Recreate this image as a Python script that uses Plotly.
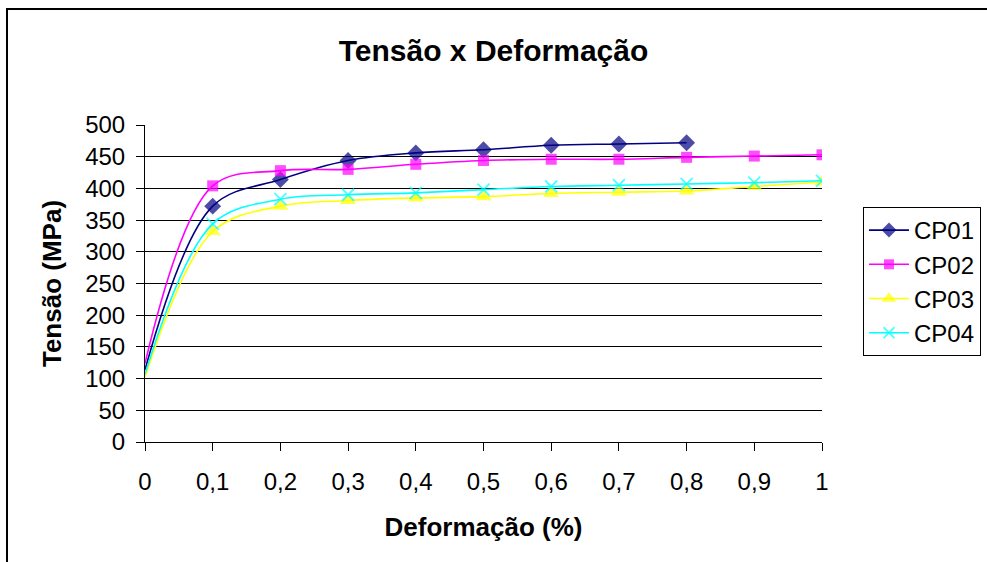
import plotly.graph_objects as go

# Strain (%) at each reading
deformacao = [0.0, 0.1, 0.2, 0.3, 0.4, 0.5, 0.6, 0.7, 0.8, 0.9, 1.0]

# Stress (MPa) for each specimen
cp01 = [114, 372, 414, 444, 456, 461, 468, 470, 472]
cp02 = [124, 404, 428, 430, 438, 444, 446, 446, 449, 451, 453]
cp03 = [102, 332, 372, 381, 385, 387, 392, 394, 396, 403, 410]
cp04 = [107, 344, 383, 390, 393, 398, 403, 405, 407, 409, 412]

y_ticks = list(range(0, 501, 50))
x_ticks = [0.0, 0.1, 0.2, 0.3, 0.4, 0.5, 0.6, 0.7, 0.8, 0.9, 1.0]
x_tick_labels = ["0", "0,1", "0,2", "0,3", "0,4", "0,5", "0,6", "0,7", "0,8", "0,9", "1"]

FONT = "Liberation Sans, Arial, sans-serif"

series = [
    ("CP01", cp01, "#000080", "diamond", 13),
    ("CP02", cp02, "#FF00FF", "square", 11),
    ("CP03", cp03, "#FFFF00", "triangle-up", 14),
    ("CP04", cp04, "#00FFFF", "x-thin", 12),
]

fig = go.Figure()
for name, vals, color, symbol, msize in series:
    xs = deformacao[:len(vals)]
    # the origin reading carries no marker
    sizes = [0] + [msize] * (len(vals) - 1)
    marker = dict(symbol=symbol, size=sizes, color=color)
    if symbol == "x-thin":
        marker["line"] = dict(color=color, width=1.8)
    else:
        marker["line"] = dict(width=0)
    fig.add_trace(go.Scatter(
        x=xs, y=vals, name=name, mode="lines+markers",
        line=dict(color=color, width=1.6, shape="spline", smoothing=1.0),
        marker=marker,
    ))

fig.update_layout(
    width=987, height=562,
    margin=dict(l=145, r=165, t=125, b=120, autoexpand=False),
    paper_bgcolor="white", plot_bgcolor="white",
    font=dict(family=FONT, color="black", size=24),
    title=dict(text="<b>Tensão x Deformação</b>", x=0.5, xanchor="center",
               y=1 - 50 / 562, yanchor="middle",
               font=dict(family=FONT, size=30, color="black")),
    showlegend=True,
    legend=dict(x=(863 - 145) / 677, y=(442 - 207) / 317, xanchor="left", yanchor="top",
                bordercolor="black", borderwidth=1, bgcolor="white",
                font=dict(family=FONT, size=24, color="black"),
                itemwidth=40, tracegroupgap=0),
)

fig.update_xaxes(
    range=[0, 1], tickvals=x_ticks, ticktext=x_tick_labels,
    showgrid=False, zeroline=False,
    showline=True, linecolor="black", linewidth=1,
    ticks="outside", ticklen=8, tickcolor="black", tickwidth=1,
    ticklabelstandoff=10,
    tickfont=dict(family=FONT, size=24, color="black"),
    title=dict(text="<b>Deformação (%)</b>", standoff=24,
               font=dict(family=FONT, size=26, color="black")),
)
fig.update_yaxes(
    range=[0, 500], tickvals=y_ticks,
    showgrid=True, gridcolor="black", gridwidth=1, zeroline=False,
    showline=True, linecolor="black", linewidth=1,
    ticks="outside", ticklen=8, tickcolor="black", tickwidth=1,
    ticklabelstandoff=6,
    tickfont=dict(family=FONT, size=24, color="black"),
    title=dict(text="<b>Tensão (MPa)</b>", standoff=16,
               font=dict(family=FONT, size=26, color="black")),
)

# outer chart frame
fig.add_shape(type="rect", xref="paper", yref="paper",
              x0=(7 - 145) / 677, x1=1.35, y0=-0.6, y1=(442 - 9) / 317,
              line=dict(color="black", width=2), fillcolor="rgba(0,0,0,0)", layer="below")

fig.write_html("out.html")
